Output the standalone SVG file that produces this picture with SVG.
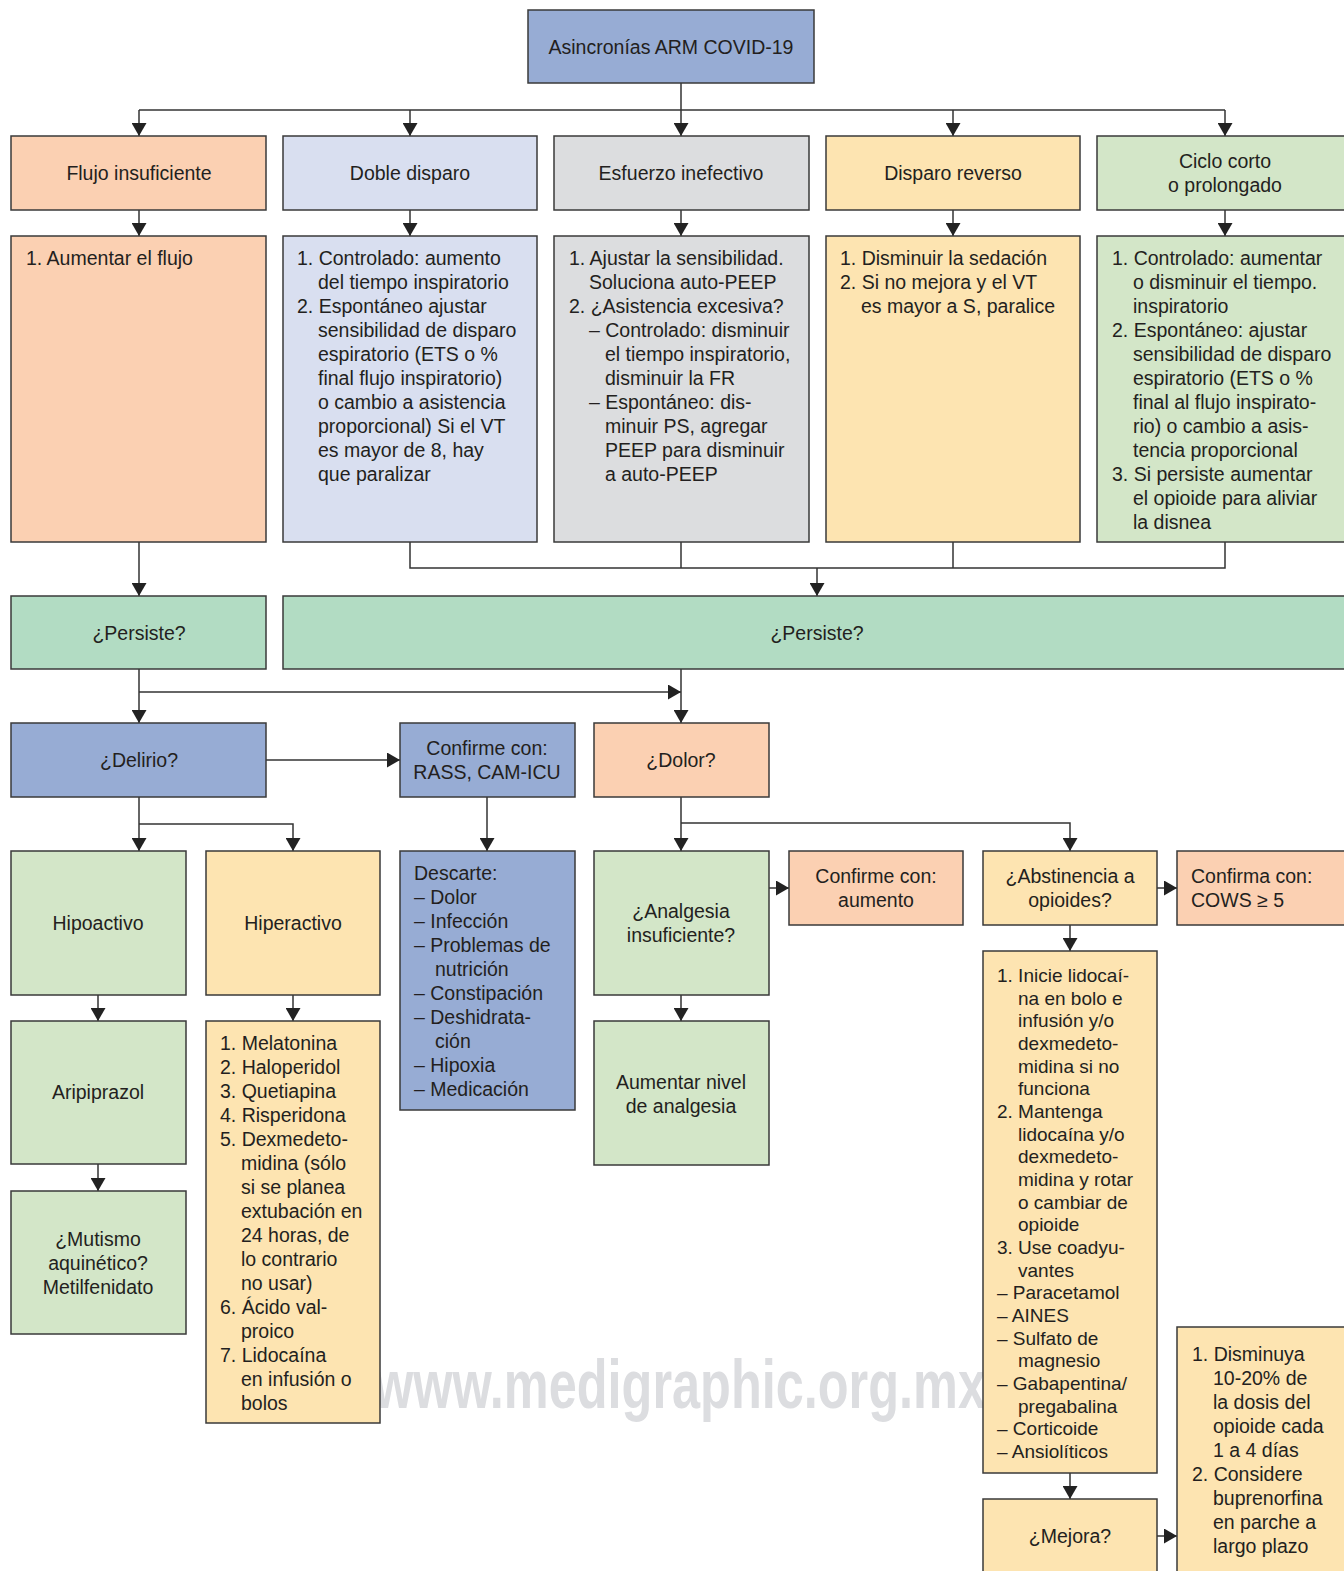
<svg xmlns="http://www.w3.org/2000/svg" width="1344" height="1571" viewBox="0 0 1344 1571">
<style>
rect{stroke:#3a3a3a;stroke-width:1.5}
.blue{fill:#97acd4}.peach{fill:#fbd0b2}.lav{fill:#d9dff0}.gray{fill:#dcdddf}.yel{fill:#fde4b1}.lg{fill:#d3e6c8}.mint{fill:#b2dcc3}
text{font-family:"Liberation Sans",Arial,sans-serif;font-size:19.5px;fill:#231f20}
.c{text-anchor:middle}
.sm text{font-size:19px}
.wm{font-family:"Liberation Sans",Arial,sans-serif;font-weight:bold;font-size:68px;fill:#dcdde0}
#connectors path{fill:none;stroke:#333;stroke-width:1.5}
</style>
<defs>
<marker id="ah" viewBox="0 0 13 15" refX="13" refY="7.5" markerWidth="13" markerHeight="15" markerUnits="userSpaceOnUse" orient="auto">
<path d="M0,0 L13,7.5 L0,15 z" fill="#222"/>
</marker>
</defs>
<text class="wm" transform="translate(374,1408) scale(0.742,1)" x="0" y="0">www.medigraphic.org.mx</text>

<g id="connectors">
<path d="M681,83 V136" marker-end="url(#ah)"/>
<path d="M139,110 H1225"/>
<path d="M139,110 V136" marker-end="url(#ah)"/>
<path d="M410,110 V136" marker-end="url(#ah)"/>
<path d="M953,110 V136" marker-end="url(#ah)"/>
<path d="M1225,110 V136" marker-end="url(#ah)"/>
<path d="M139,210 V236" marker-end="url(#ah)"/>
<path d="M410,210 V236" marker-end="url(#ah)"/>
<path d="M681,210 V236" marker-end="url(#ah)"/>
<path d="M953,210 V236" marker-end="url(#ah)"/>
<path d="M1225,210 V236" marker-end="url(#ah)"/>
<path d="M139,542 V596" marker-end="url(#ah)"/>
<path d="M410,542 V568 H1225 V542"/>
<path d="M681,542 V568"/>
<path d="M953,542 V568"/>
<path d="M817,568 V596" marker-end="url(#ah)"/>
<path d="M139,669 V723" marker-end="url(#ah)"/>
<path d="M139,692 H681" marker-end="url(#ah)"/>
<path d="M681,669 V723" marker-end="url(#ah)"/>
<path d="M266,760 H400" marker-end="url(#ah)"/>
<path d="M139,797 V851" marker-end="url(#ah)"/>
<path d="M139,824 H293 V851" marker-end="url(#ah)"/>
<path d="M487,797 V851" marker-end="url(#ah)"/>
<path d="M681,797 V851" marker-end="url(#ah)"/>
<path d="M681,823 H1070 V851" marker-end="url(#ah)"/>
<path d="M769,888 H789" marker-end="url(#ah)"/>
<path d="M1157,888 H1177" marker-end="url(#ah)"/>
<path d="M1070,925 V951" marker-end="url(#ah)"/>
<path d="M98,995 V1021" marker-end="url(#ah)"/>
<path d="M293,995 V1021" marker-end="url(#ah)"/>
<path d="M681,995 V1021" marker-end="url(#ah)"/>
<path d="M98,1164 V1191" marker-end="url(#ah)"/>
<path d="M1070,1473 V1499" marker-end="url(#ah)"/>
<path d="M1157,1536 H1177" marker-end="url(#ah)"/>
</g>

<g id="n-title"><rect class="blue" x="528" y="10" width="286" height="73"/><text class="c" x="671" y="54">Asincronías ARM COVID-19</text></g>

<g id="n-flujo"><rect class="peach" x="11" y="136" width="255" height="74"/><text class="c" x="139" y="180">Flujo insuficiente</text></g>
<g id="n-doble"><rect class="lav" x="283" y="136" width="254" height="74"/><text class="c" x="410" y="180">Doble disparo</text></g>
<g id="n-esfuerzo"><rect class="gray" x="554" y="136" width="255" height="74"/><text class="c" x="681" y="180">Esfuerzo inefectivo</text></g>
<g id="n-reverso"><rect class="yel" x="826" y="136" width="254" height="74"/><text class="c" x="953" y="180">Disparo reverso</text></g>
<g id="n-ciclo"><rect class="lg" x="1097" y="136" width="250" height="74"/><text class="c" x="1225" y="168">Ciclo corto</text><text class="c" x="1225" y="192">o prolongado</text></g>

<g id="n-flujo-acc"><rect class="peach" x="11" y="236" width="255" height="306"/><text x="26" y="265">1. Aumentar el flujo</text></g>
<g id="n-doble-acc"><rect class="lav" x="283" y="236" width="254" height="306"/>
<text x="297" y="265">1. Controlado: aumento</text>
<text x="318" y="289">del tiempo inspiratorio</text>
<text x="297" y="313">2. Espontáneo ajustar</text>
<text x="318" y="337">sensibilidad de disparo</text>
<text x="318" y="361">espiratorio (ETS o %</text>
<text x="318" y="385">final flujo inspiratorio)</text>
<text x="318" y="409">o cambio a asistencia</text>
<text x="318" y="433">proporcional) Si el VT</text>
<text x="318" y="457">es mayor de 8, hay</text>
<text x="318" y="481">que paralizar</text>
</g>
<g id="n-esfuerzo-acc"><rect class="gray" x="554" y="236" width="255" height="306"/>
<text x="569" y="265">1. Ajustar la sensibilidad.</text>
<text x="589" y="289">Soluciona auto-PEEP</text>
<text x="569" y="313">2. ¿Asistencia excesiva?</text>
<text x="589" y="337">– Controlado: disminuir</text>
<text x="605" y="361">el tiempo inspiratorio,</text>
<text x="605" y="385">disminuir la FR</text>
<text x="589" y="409">– Espontáneo: dis-</text>
<text x="605" y="433">minuir PS, agregar</text>
<text x="605" y="457">PEEP para disminuir</text>
<text x="605" y="481">a auto-PEEP</text>
</g>
<g id="n-reverso-acc"><rect class="yel" x="826" y="236" width="254" height="306"/>
<text x="840" y="265">1. Disminuir la sedación</text>
<text x="840" y="289">2. Si no mejora y el VT</text>
<text x="861" y="313">es mayor a S, paralice</text>
</g>
<g id="n-ciclo-acc"><rect class="lg" x="1097" y="236" width="250" height="306"/>
<text x="1112" y="265">1. Controlado: aumentar</text>
<text x="1133" y="289">o disminuir el tiempo.</text>
<text x="1133" y="313">inspiratorio</text>
<text x="1112" y="337">2. Espontáneo: ajustar</text>
<text x="1133" y="361">sensibilidad de disparo</text>
<text x="1133" y="385">espiratorio (ETS o %</text>
<text x="1133" y="409">final al flujo inspirato-</text>
<text x="1133" y="433">rio) o cambio a asis-</text>
<text x="1133" y="457">tencia proporcional</text>
<text x="1112" y="481">3. Si persiste aumentar</text>
<text x="1133" y="505">el opioide para aliviar</text>
<text x="1133" y="529">la disnea</text>
</g>

<g id="n-persiste1"><rect class="mint" x="11" y="596" width="255" height="73"/><text class="c" x="139" y="640">¿Persiste?</text></g>
<g id="n-persiste2"><rect class="mint" x="283" y="596" width="1064" height="73"/><text class="c" x="817" y="640">¿Persiste?</text></g>

<g id="n-delirio"><rect class="blue" x="11" y="723" width="255" height="74"/><text class="c" x="139" y="767">¿Delirio?</text></g>
<g id="n-confirme-rass"><rect class="blue" x="400" y="723" width="175" height="74"/><text class="c" x="487" y="755">Confirme con:</text><text class="c" x="487" y="779">RASS, CAM-ICU</text></g>
<g id="n-dolor"><rect class="peach" x="594" y="723" width="175" height="74"/><text class="c" x="681" y="767">¿Dolor?</text></g>

<g id="n-hipoactivo"><rect class="lg" x="11" y="851" width="175" height="144"/><text class="c" x="98" y="930">Hipoactivo</text></g>
<g id="n-hiperactivo"><rect class="yel" x="206" y="851" width="174" height="144"/><text class="c" x="293" y="930">Hiperactivo</text></g>
<g id="n-descarte"><rect class="blue" x="400" y="851" width="175" height="259"/>
<text x="414" y="880">Descarte:</text>
<text x="414" y="904">– Dolor</text>
<text x="414" y="928">– Infección</text>
<text x="414" y="952">– Problemas de</text>
<text x="435" y="976">nutrición</text>
<text x="414" y="1000">– Constipación</text>
<text x="414" y="1024">– Deshidrata-</text>
<text x="435" y="1048">ción</text>
<text x="414" y="1072">– Hipoxia</text>
<text x="414" y="1096">– Medicación</text>
</g>
<g id="n-analgesia"><rect class="lg" x="594" y="851" width="175" height="144"/><text class="c" x="681" y="918">¿Analgesia</text><text class="c" x="681" y="942">insuficiente?</text></g>
<g id="n-confirme-aumento"><rect class="peach" x="789" y="851" width="174" height="74"/><text class="c" x="876" y="883">Confirme con:</text><text class="c" x="876" y="907">aumento</text></g>
<g id="n-abstinencia"><rect class="yel" x="983" y="851" width="174" height="74"/><text class="c" x="1070" y="883">¿Abstinencia a</text><text class="c" x="1070" y="907">opioides?</text></g>
<g id="n-cows"><rect class="peach" x="1177" y="851" width="170" height="74"/><text x="1191" y="883">Confirma con:</text><text x="1191" y="907">COWS ≥ 5</text></g>

<g id="n-aripiprazol"><rect class="lg" x="11" y="1021" width="175" height="143"/><text class="c" x="98" y="1099">Aripiprazol</text></g>
<g id="n-hiper-list"><rect class="yel" x="206" y="1021" width="174" height="402"/>
<text x="220" y="1050">1. Melatonina</text>
<text x="220" y="1074">2. Haloperidol</text>
<text x="220" y="1098">3. Quetiapina</text>
<text x="220" y="1122">4. Risperidona</text>
<text x="220" y="1146">5. Dexmedeto-</text>
<text x="241" y="1170">midina (sólo</text>
<text x="241" y="1194">si se planea</text>
<text x="241" y="1218">extubación en</text>
<text x="241" y="1242">24 horas, de</text>
<text x="241" y="1266">lo contrario</text>
<text x="241" y="1290">no usar)</text>
<text x="220" y="1314">6. Ácido val-</text>
<text x="241" y="1338">proico</text>
<text x="220" y="1362">7. Lidocaína</text>
<text x="241" y="1386">en infusión o</text>
<text x="241" y="1410">bolos</text>
</g>
<g id="n-aumentar"><rect class="lg" x="594" y="1021" width="175" height="144"/><text class="c" x="681" y="1089">Aumentar nivel</text><text class="c" x="681" y="1113">de analgesia</text></g>
<g id="n-abst-list" class="sm"><rect class="yel" x="983" y="951" width="174" height="522"/>
<text x="997" y="982">1. Inicie lidocaí-</text>
<text x="1018" y="1004.7">na en bolo e</text>
<text x="1018" y="1027.3">infusión y/o</text>
<text x="1018" y="1050">dexmedeto-</text>
<text x="1018" y="1072.7">midina si no</text>
<text x="1018" y="1095.3">funciona</text>
<text x="997" y="1118">2. Mantenga</text>
<text x="1018" y="1140.7">lidocaína y/o</text>
<text x="1018" y="1163.3">dexmedeto-</text>
<text x="1018" y="1186">midina y rotar</text>
<text x="1018" y="1208.7">o cambiar de</text>
<text x="1018" y="1231.3">opioide</text>
<text x="997" y="1254">3. Use coadyu-</text>
<text x="1018" y="1276.7">vantes</text>
<text x="997" y="1299.3">– Paracetamol</text>
<text x="997" y="1322">– AINES</text>
<text x="997" y="1344.7">– Sulfato de</text>
<text x="1018" y="1367.3">magnesio</text>
<text x="997" y="1390">– Gabapentina/</text>
<text x="1018" y="1412.7">pregabalina</text>
<text x="997" y="1435.3">– Corticoide</text>
<text x="997" y="1458">– Ansiolíticos</text>
</g>

<g id="n-mutismo"><rect class="lg" x="11" y="1191" width="175" height="143"/><text class="c" x="98" y="1246">¿Mutismo</text><text class="c" x="98" y="1270">aquinético?</text><text class="c" x="98" y="1294">Metilfenidato</text></g>
<g id="n-mejora"><rect class="yel" x="983" y="1499" width="174" height="80"/><text class="c" x="1070" y="1543">¿Mejora?</text></g>
<g id="n-disminuya"><rect class="yel" x="1177" y="1327" width="170" height="252"/>
<text x="1192" y="1361">1. Disminuya</text>
<text x="1213" y="1385">10-20% de</text>
<text x="1213" y="1409">la dosis del</text>
<text x="1213" y="1433">opioide cada</text>
<text x="1213" y="1457">1 a 4 días</text>
<text x="1192" y="1481">2. Considere</text>
<text x="1213" y="1505">buprenorfina</text>
<text x="1213" y="1529">en parche a</text>
<text x="1213" y="1553">largo plazo</text>
</g>
</svg>
